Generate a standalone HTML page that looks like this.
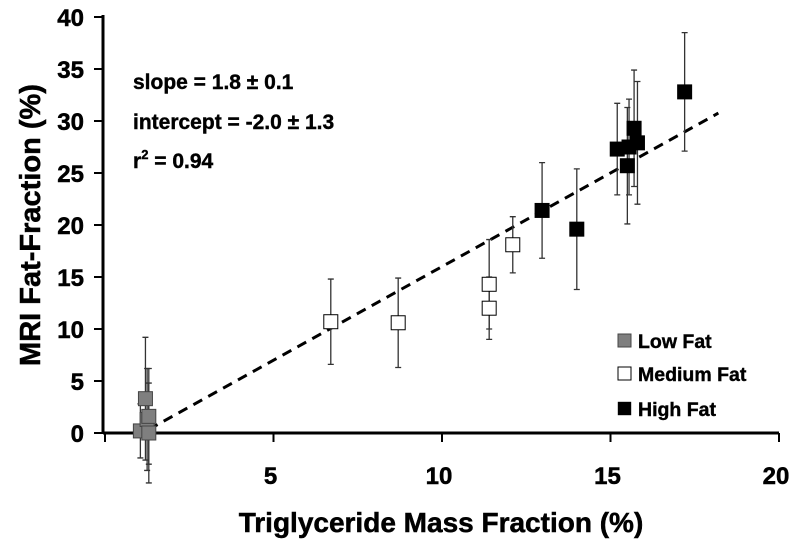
<!DOCTYPE html>
<html><head><meta charset="utf-8"><style>
body{margin:0;background:#fff}
svg{display:block;font-family:"Liberation Sans",Arial,sans-serif;font-weight:bold}
</style></head><body>
<svg id="chart" width="800" height="546" viewBox="0 0 800 546">
<g id="grid"></g>
<g id="axes"></g>
<g id="marks"></g>
<g font-size="21" fill="#000" stroke="#000" stroke-width="0.4">
<text x="133" y="89">slope = 1.8 ± 0.1</text>
<text x="133" y="129">intercept = -2.0 ± 1.3</text>
<text x="133" y="168">r<tspan font-size="13" dy="-9">2</tspan><tspan dy="9"> = 0.94</tspan></text>
</g>
<g font-size="19.5" stroke="#000" stroke-width="0.4">
<rect x="618" y="334" width="13" height="13" fill="#7f7f7f" stroke="#444" stroke-width="1"/>
<text x="638" y="348">Low Fat</text>
<rect x="618" y="367" width="13" height="13" fill="#fff" stroke="#000" stroke-width="1"/>
<text x="638" y="381">Medium Fat</text>
<rect x="618" y="402" width="13" height="13" fill="#000"/>
<text x="638" y="416">High Fat</text>
</g>
<text x="441" y="532" font-size="28" text-anchor="middle" stroke="#000" stroke-width="0.5">Triglyceride Mass Fraction (%)</text>
<text transform="translate(40,225) rotate(-90)" font-size="29" text-anchor="middle" stroke="#000" stroke-width="0.5">MRI Fat-Fraction (%)</text>
</svg>
<script>
const xTicks=[5,10,15,20];
const yTicks=[0,5,10,15,20,25,30,35,40];
const lowX=[1.05,1.2,1.25,1.3,1.3];
const lowY=[0.2,3.3,1.3,1.6,0];
const lowErr=[2.6,5.9,4.9,4.6,4.8];
const medX=[6.7,8.7,11.4,11.4,12.1];
const medY=[10.7,10.6,14.3,12.0,18.1];
const medErr=[4.1,4.3,4.3,3.0,2.7];
const highX=[12.97,14.0,15.2,15.5,15.55,15.7,15.8,17.2];
const highY=[21.4,19.6,27.3,25.7,27.5,29.3,27.9,32.8];
const highErr=[4.6,5.8,4.4,5.6,4.6,5.6,5.9,5.7];
const fitSlope=1.8, fitIntercept=-2.0, fitX=[1.3,18.2];

const X=v=>105+33.7*v, Y=v=>433-10.4*v;
const NS="http://www.w3.org/2000/svg";
function mk(parent,tag,attrs){const e=document.createElementNS(NS,tag);for(const k in attrs)e.setAttribute(k,attrs[k]);document.getElementById(parent).appendChild(e);return e;}
let e=mk('axes','line',{x1:103,y1:433,x2:779,y2:433,stroke:'#000','stroke-width':3});


e=mk('axes','line',{x1:103,y1:15,x2:103,y2:434,stroke:'#000','stroke-width':3});


e=mk('axes','line',{x1:105,y1:433,x2:105,y2:442,stroke:'#000','stroke-width':2});


xTicks.forEach(t=>{
 let l=mk('axes','line',{x1:X(t),y1:433,x2:X(t),y2:442,stroke:'#000','stroke-width':2});
 
 
 let s=mk('axes','text',{x:X(t)-3,y:484,'font-size':24,'text-anchor':'middle',stroke:'#000','stroke-width':0.5});
 s.textContent=t;
 
 
});
yTicks.forEach(t=>{
 let l=mk('axes','line',{x1:94,y1:Y(t),x2:103,y2:Y(t),stroke:'#000','stroke-width':2});
 
 
 let s=mk('axes','text',{x:84,y:Y(t)+9,'font-size':24,'text-anchor':'end',stroke:'#000','stroke-width':0.5});
 s.textContent=t;
 
 
});
e=mk('marks','line',{x1:X(fitX[0]),y1:Y(fitSlope*fitX[0]+fitIntercept),x2:X(fitX[1]),y2:Y(fitSlope*fitX[1]+fitIntercept),stroke:'#000','stroke-width':3,'stroke-dasharray':'10,7'});


function series(xs,ys,es,fill,stroke,name){
 xs.forEach((x,i)=>{
  const cx=X(x),y1=Y(ys[i]+es[i]),y2=Y(ys[i]-es[i]);
  let b=mk('marks','path',{d:`M${cx},${y1}V${y2}M${cx-3},${y1}h6M${cx-3},${y2}h6`,stroke:'#333','stroke-width':1.3,fill:'none'});
  
  
 });
 xs.forEach((x,i)=>{
  let r=mk('marks','rect',{x:X(x)-7,y:Y(ys[i])-7,width:14,height:14,fill:fill,stroke:stroke,'stroke-width':1});
  
  
 });
}
series(lowX,lowY,lowErr,'#7f7f7f','#444','low-fat');
series(medX,medY,medErr,'#fff','#000','medium-fat');
series(highX,highY,highErr,'#000','#000','high-fat');
</script>
</body></html>
